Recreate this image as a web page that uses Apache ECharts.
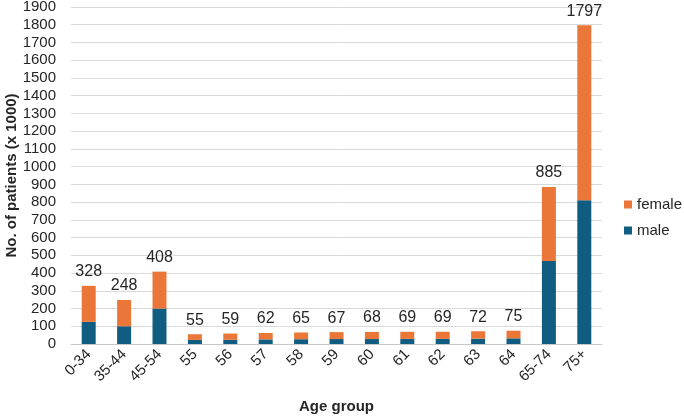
<!DOCTYPE html>
<html>
<head>
<meta charset="utf-8">
<script src="https://cdn.jsdelivr.net/npm/echarts@6/dist/echarts.min.js"></script>
<style>
  html, body { margin: 0; padding: 0; background: #fff; }
  #chart { width: 684px; height: 419px; }
</style>
</head>
<body>
<div id="chart"></div>
<script>
const ageGroups = ['0-34', '35-44', '45-54', '55', '56', '57', '58', '59', '60', '61', '62', '63', '64', '65-74', '75+'];
const maleValues = [125, 100, 200, 23, 24, 26, 27, 28, 28, 29, 29, 30, 32, 468, 810];
const totalValues = [328, 248, 408, 55, 59, 62, 65, 67, 68, 69, 69, 72, 75, 885, 1797];
const femaleValues = totalValues.map((t, i) => t - maleValues[i]);

const chart = echarts.init(document.getElementById('chart'));
const textColor = '#262626';
const font = 'Liberation Sans, Arial, sans-serif';

chart.setOption({
  animation: false,
  textStyle: { fontFamily: font },
  grid: { left: 71, right: 82, top: 7, bottom: 75, containLabel: false, outerBoundsMode: 'none' },
  legend: {
    orient: 'vertical',
    left: 619,
    top: 192,
    itemWidth: 8,
    itemHeight: 8,
    itemGap: 11,
    icon: 'rect',
    data: ['female', 'male'],
    textStyle: { fontSize: 15, color: textColor, fontFamily: font }
  },
  xAxis: {
    type: 'category',
    data: ageGroups,
    name: 'Age group',
    nameLocation: 'middle',
    nameGap: 55,
    nameMoveOverlap: false,
    nameTextStyle: { fontSize: 15, fontWeight: 'bold', color: textColor },
    axisLine: { lineStyle: { color: '#c8c8c8' } },
    axisTick: { show: false },
    axisLabel: { rotate: 45, fontSize: 15, color: textColor, interval: 0, margin: 8 }
  },
  yAxis: {
    type: 'value',
    min: 0,
    max: 1900,
    interval: 100,
    name: 'No. of patients (x 1000)',
    nameLocation: 'middle',
    nameGap: 52,
    nameMoveOverlap: false,
    nameTextStyle: { fontSize: 15, fontWeight: 'bold', color: textColor },
    axisLine: { show: false },
    axisTick: { show: false },
    axisLabel: { fontSize: 15, color: textColor, margin: 15, formatter: v => String(v) },
    splitLine: { lineStyle: { color: '#d9d9d9' } }
  },
  series: [
    {
      name: 'male',
      type: 'bar',
      stack: 'total',
      barWidth: 14,
      data: maleValues,
      itemStyle: { color: '#115d82' }
    },
    {
      name: 'female',
      type: 'bar',
      stack: 'total',
      barWidth: 14,
      data: femaleValues,
      itemStyle: { color: '#ea7638' },
      label: {
        show: true,
        position: 'top',
        distance: 6,
        fontSize: 16,
        color: textColor,
        formatter: p => totalValues[p.dataIndex]
      }
    }
  ]
});
</script>
</body>
</html>
